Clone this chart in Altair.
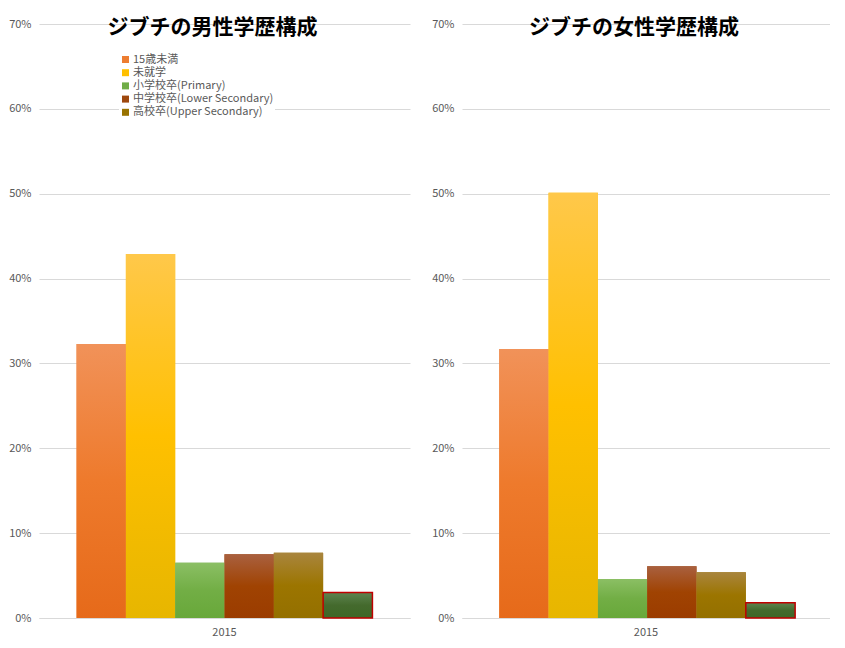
import altair as alt
import pandas as pd

categories = ["15歳未満", "未就学", "小学校卒(Primary)", "中学校卒(Lower Secondary)",
              "高校卒(Upper Secondary)", "大学卒(Tertiary)"]
legend_values = categories[:5]
year = ["2015"]
male = [0.323, 0.429, 0.065, 0.075, 0.077, 0.030]
female = [0.317, 0.501, 0.046, 0.061, 0.054, 0.018]
titles = ["ジブチの男性学歴構成", "ジブチの女性学歴構成"]
y_ticks = [0, 0.1, 0.2, 0.3, 0.4, 0.5, 0.6, 0.7]

base_colors = ["#ED7D31", "#FFC000", "#70AD47", "#9E480E", "#997300", "#43682B"]
grad_stops = [
    ("#F19259", "#EE7A2C", "#E66A1A"),
    ("#FFC84A", "#FFC000", "#E7B600"),
    ("#8BBF64", "#72AE45", "#68A83A"),
    ("#A9603F", "#A04302", "#9B3C00"),
    ("#A9853E", "#9C7500", "#947000"),
    ("#5E8450", "#446A2D", "#3E6727"),
]
strokes = [None, None, None, None, None, "#C00000"]

FONT = "Noto Sans CJK JP"


def panel(vals, title, width):
    df = pd.DataFrame({"year": year * len(categories), "cat": categories, "value": vals})
    base = alt.Chart(df)
    x = alt.X("year:N", title=None,
              scale=alt.Scale(paddingOuter=0.127, paddingInner=0),
              axis=alt.Axis(labelAngle=0, domain=True, domainColor="#D9D9D9", ticks=False,
                            labelColor="#595959", labelFontSize=11, labelFont=FONT,
                            labelPadding=8))
    xo = alt.XOffset("cat:N", sort=categories,
                     scale=alt.Scale(domain=categories, paddingInner=0, paddingOuter=0))
    y = alt.Y("value:Q", title=None,
              scale=alt.Scale(domain=[0, 0.7], nice=False, zero=True),
              axis=alt.Axis(format=".0%", values=y_ticks, grid=True, gridColor="#D9D9D9",
                            domain=False, ticks=False, labelPadding=8, labelColor="#595959",
                            labelFontSize=11, labelFont=FONT))
    flat = base.mark_bar().encode(
        x=x, xOffset=xo, y=y,
        color=alt.Color("cat:N", sort=categories,
                        scale=alt.Scale(domain=categories, range=base_colors),
                        legend=alt.Legend(values=legend_values, title=None, orient="none",
                                          legendX=80, legendY=29, symbolType="square",
                                          symbolSize=49, labelFontSize=11, labelFont=FONT,
                                          labelColor="#595959", rowPadding=1.2, labelLimit=300,
                                          labelOffset=2, fillColor="white", padding=1,
                                          symbolStrokeWidth=0)),
    )
    layers = [flat]
    for cat, (c0, c1, c2), st in zip(categories, grad_stops, strokes):
        kw = {}
        if st:
            kw = {"stroke": st, "strokeWidth": 1.5}
        layers.append(
            base.transform_filter(alt.datum.cat == cat).mark_bar(
                color=alt.Gradient(gradient="linear", x1=0, x2=0, y1=0, y2=1,
                                   stops=[alt.GradientStop(offset=0, color=c0),
                                          alt.GradientStop(offset=0.5, color=c1),
                                          alt.GradientStop(offset=1, color=c2)]),
                **kw,
            ).encode(x=x, xOffset=xo, y=y)
        )
    return alt.layer(*layers).properties(
        width=width, height=594,
        title=alt.Title(title, font=FONT, fontSize=21, fontWeight="bold", color="black",
                        anchor="middle", offset=-20, dx=-12),
    )


chart = alt.hconcat(
    panel(male, titles[0], 371),
    panel(female, titles[1], 368),
    spacing=21,
).properties(
    padding={"left": 0, "top": 9, "right": 0, "bottom": 0},
).configure_view(stroke=None)

chart.save("out.html", embed_options={"renderer": "svg", "actions": False})
